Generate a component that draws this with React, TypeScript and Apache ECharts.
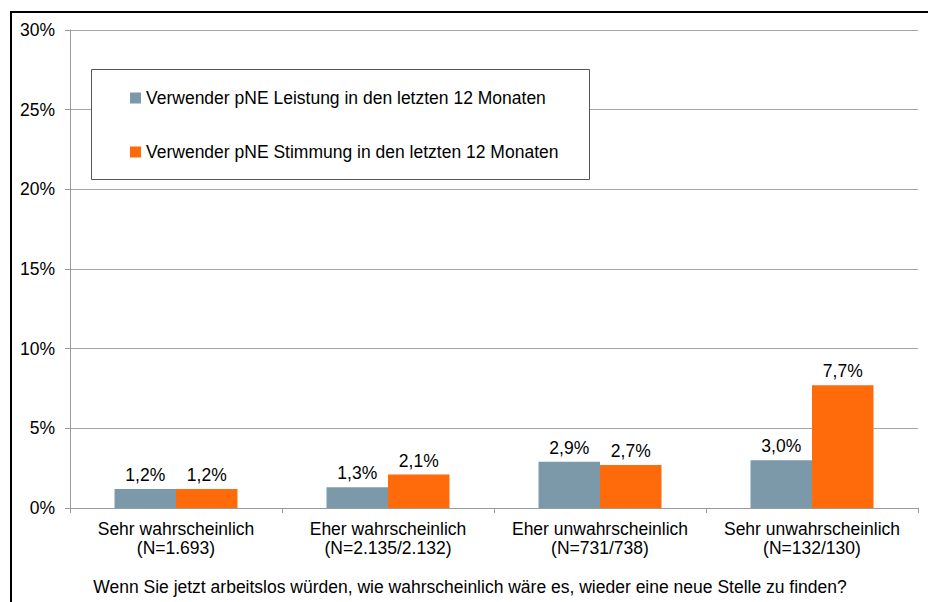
import React, { useEffect, useRef } from "react";
import * as echarts from "echarts";

const categories = [
  "Sehr wahrscheinlich\n(N=1.693)",
  "Eher wahrscheinlich\n(N=2.135/2.132)",
  "Eher unwahrscheinlich\n(N=731/738)",
  "Sehr unwahrscheinlich\n(N=132/130)",
];
const seriesNames = [
  "Verwender pNE Leistung in den letzten 12 Monaten",
  "Verwender pNE Stimmung in den letzten 12 Monaten",
];
const leistung = [1.2, 1.3, 2.9, 3.0];
const stimmung = [1.2, 2.1, 2.7, 7.7];
const xAxisTitle =
  "Wenn Sie jetzt arbeitslos würden, wie wahrscheinlich wäre es, wieder eine neue Stelle zu finden?";

const FONT = "'Liberation Sans', Arial, Helvetica, sans-serif";
const FS = 17.5;

export default function App() {
  const ref = useRef<HTMLDivElement>(null);
  useEffect(() => {
    if (!ref.current) return;
    const chart = echarts.init(ref.current, undefined, { renderer: "svg" });
    const fmt = (p: any) => Number(p.value).toFixed(1).replace(".", ",") + "%";
    const labelCfg = {
      show: true,
      position: "top",
      distance: 5,
      fontSize: FS,
      color: "#000",
      fontFamily: FONT,
      formatter: fmt,
    };
    chart.setOption({
      animation: false,
      backgroundColor: "#ffffff",
      textStyle: { fontFamily: FONT },
      grid: { left: 70, right: 10, top: 30, bottom: 94, containLabel: false },
      legend: {
        orient: "vertical",
        left: 130,
        top: 88,
        padding: 0,
        itemGap: 34,
        itemWidth: 11,
        itemHeight: 11,
        icon: "rect",
        itemStyle: { borderWidth: 0 },
        itemTextGap: 4,
        textStyle: { fontSize: FS, color: "#000", fontFamily: FONT, lineHeight: 20 },
        z: 10,
        data: seriesNames,
      },
      xAxis: {
        type: "category",
        data: categories,
        axisLine: { lineStyle: { color: "#9a9a9a", width: 1 } },
        axisTick: { show: true, length: 5, lineStyle: { color: "#9a9a9a" } },
        axisLabel: {
          fontSize: FS,
          color: "#000",
          lineHeight: 19,
          margin: 11,
          fontFamily: FONT,
          interval: 0,
        },
      },
      yAxis: {
        type: "value",
        min: 0,
        max: 30,
        interval: 5,
        axisLine: { show: true, lineStyle: { color: "#9a9a9a", width: 1 } },
        axisTick: { show: true, length: 5, lineStyle: { color: "#9a9a9a" } },
        axisLabel: {
          fontSize: FS,
          color: "#000",
          margin: 15,
          formatter: "{value}%",
          fontFamily: FONT,
        },
        splitLine: { show: true, lineStyle: { color: "#a6a6a6", width: 1 } },
      },
      series: [
        {
          name: seriesNames[0],
          type: "bar",
          data: leistung,
          barGap: "0%",
          barCategoryGap: "42%",
          itemStyle: { color: "#7B99A9" },
          label: labelCfg,
        },
        {
          name: seriesNames[1],
          type: "bar",
          data: stimmung,
          barGap: "0%",
          barCategoryGap: "42%",
          itemStyle: { color: "#FF6A0A" },
          label: labelCfg,
        },
      ],
      graphic: [
        {
          type: "rect",
          z: 5,
          shape: { x: 91.5, y: 69.5, width: 498, height: 110 },
          style: { fill: "#ffffff", stroke: "#555555", lineWidth: 1 },
        },
        {
          type: "rect",
          z: 20,
          shape: { x: 10, y: 11, width: 918, height: 2 },
          style: { fill: "#000000" },
        },
        {
          type: "rect",
          z: 20,
          shape: { x: 10, y: 11, width: 2, height: 591 },
          style: { fill: "#000000" },
        },
        {
          type: "text",
          z: 20,
          x: 470,
          y: 587,
          style: {
            text: xAxisTitle,
            fontSize: FS,
            fontFamily: FONT,
            fill: "#000",
            textAlign: "center",
            textVerticalAlign: "middle",
          },
        },
      ],
    });
    return () => chart.dispose();
  }, []);
  return (
    <div
      ref={ref}
      style={{ position: "fixed", left: 0, top: 0, width: 928, height: 602 }}
    />
  );
}
